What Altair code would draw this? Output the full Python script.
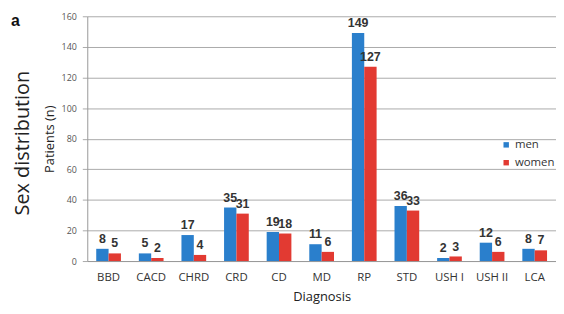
import altair as alt
import pandas as pd

categories = ["BBD", "CACD", "CHRD", "CRD", "CD", "MD", "RP", "STD", "USH I", "USH II", "LCA"]
men = [8, 5, 17, 35, 19, 11, 149, 36, 2, 12, 8]
women = [5, 2, 4, 31, 18, 6, 127, 33, 3, 6, 7]
series = ["men", "women"]
y_ticks = [0, 20, 40, 60, 80, 100, 120, 140, 160]

rows = []
for i, c in enumerate(categories):
    rows.append({"Diagnosis": c, "Sex": "men", "n": men[i]})
    rows.append({"Diagnosis": c, "Sex": "women", "n": women[i]})
df = pd.DataFrame(rows)

x = alt.X("Diagnosis:N", sort=categories,
          scale=alt.Scale(paddingInner=0.42, paddingOuter=0.21),
          axis=alt.Axis(title="Diagnosis", labelAngle=0, ticks=False, labelFontSize=11.5,
                        labelColor="#333", labelPadding=11, titleFontSize=13,
                        titleFontWeight="normal", titleColor="#222", titlePadding=7,
                        domainColor="#999", labelFont="Open Sans", titleFont="Open Sans"))
y = alt.Y("n:Q", scale=alt.Scale(domain=[0, 160], nice=False),
          axis=alt.Axis(title="Patients (n)", values=y_ticks, labelFontSize=9, labelColor="#555",
                        gridColor="#aaa", domainColor="#999", tickColor="#aaa", tickSize=5,
                        labelPadding=6, titleFontSize=13, titleFontWeight="normal",
                        titleColor="#222", titlePadding=5, labelFont="Open Sans",
                        titleFont="Open Sans"))
color = alt.Color("Sex:N", scale=alt.Scale(domain=series, range=["#2a7fcc", "#e23a32"]),
                  legend=alt.Legend(title=None, orient="none", legendX=417, legendY=124,
                                    symbolType="square", symbolSize=30, labelFontSize=11.5,
                                    labelColor="#333", rowPadding=5, labelFont="Open Sans",
                                    labelOffset=3, symbolStrokeWidth=0))

base = alt.Chart(df).encode(x=x, xOffset=alt.XOffset("Sex:N", sort=series), y=y)

bars = base.mark_bar().encode(color=color)
labels = base.mark_text(baseline="bottom", dy=-3, fontSize=12.5, fontWeight="bold",
                        color="#333", font="Liberation Sans").encode(text="n:Q")

side = alt.Chart(pd.DataFrame({"t": ["Sex distribution"]})).mark_text(
    angle=270, fontSize=20, color="#222", font="Open Sans", baseline="middle").encode(
    text="t:N", x=alt.value(-65), y=alt.value(128))
letter = alt.Chart(pd.DataFrame({"t": ["a"]})).mark_text(
    fontSize=16, fontWeight="bold", color="#111", font="Liberation Sans", align="left").encode(
    text="t:N", x=alt.value(-77), y=alt.value(5))

chart = alt.layer(bars, labels, side, letter).properties(
    width=473, height=247,
    autosize=alt.AutoSizeParams(type="none"),
    padding={"left": 80, "top": 7, "right": 0, "bottom": 44},
).configure_view(stroke=None).configure_axisY(domain=True)

chart.save("out.html", embed_options={"renderer": "svg", "actions": False})
